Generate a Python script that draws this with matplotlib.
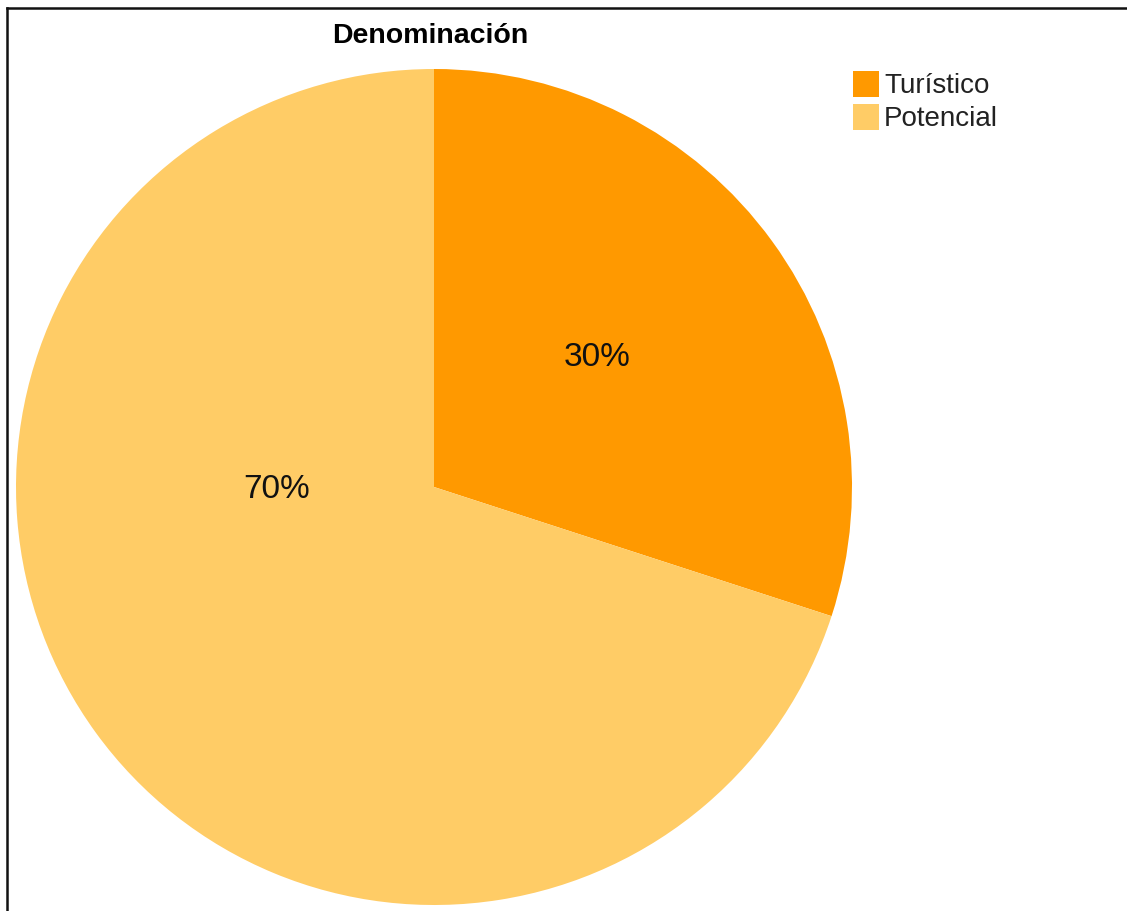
import matplotlib.pyplot as plt
from matplotlib.lines import Line2D
from matplotlib.patches import Rectangle

categories = ['Turístico', 'Potencial']
values = [30, 70]
colors = ['#FF9900', '#FFCC66']
title = 'Denominación'

W, H = 1127, 911
fig = plt.figure(figsize=(W / 100, H / 100), dpi=100)
plt.rcParams['font.family'] = ['Liberation Sans', 'DejaVu Sans']

# pie axes: centre (434, 487) px, radius 418 px
cx, cy, r = 434, 487, 418
ax = fig.add_axes([(cx - r) / W, (H - cy - r) / H, 2 * r / W, 2 * r / H])
wedges, texts, autotexts = ax.pie(values, colors=colors, startangle=90,
                                  counterclock=False, autopct='%d%%',
                                  pctdistance=0.5,
                                  wedgeprops=dict(linewidth=0),
                                  textprops=dict(fontsize=24, color='#111111'))
ax.set_aspect('equal')
ax.set_xlim(-1, 1)
ax.set_ylim(-1, 1)
# label placement as in the original chart
autotexts[0].set_position((0.39, 0.311))
autotexts[1].set_position((-0.376, -0.007))

fig.text(430 / W, 1 - 36 / H, title, ha='center', va='center',
         fontsize=20.5, fontweight='bold', color='black')

# legend
for i, (lab, col) in enumerate(zip(categories, colors)):
    top = 71 + i * 33
    fig.add_artist(Rectangle((853 / W, 1 - (top + 26) / H), 26 / W, 26 / H,
                             transform=fig.transFigure, facecolor=col,
                             edgecolor='none'))
    fig.text(884 / W, 1 - (top + 15) / H, lab, ha='left', va='center',
             fontsize=20, color='#222222')

# frame lines (top and left)
fig.add_artist(Line2D([7 / W, 1], [1 - 8 / H, 1 - 8 / H],
                      transform=fig.transFigure, color='#111111', lw=1.8))
fig.add_artist(Line2D([7 / W, 7 / W], [0, 1 - 8 / H],
                      transform=fig.transFigure, color='#111111', lw=1.8))

fig.savefig('out.png', dpi=100)
